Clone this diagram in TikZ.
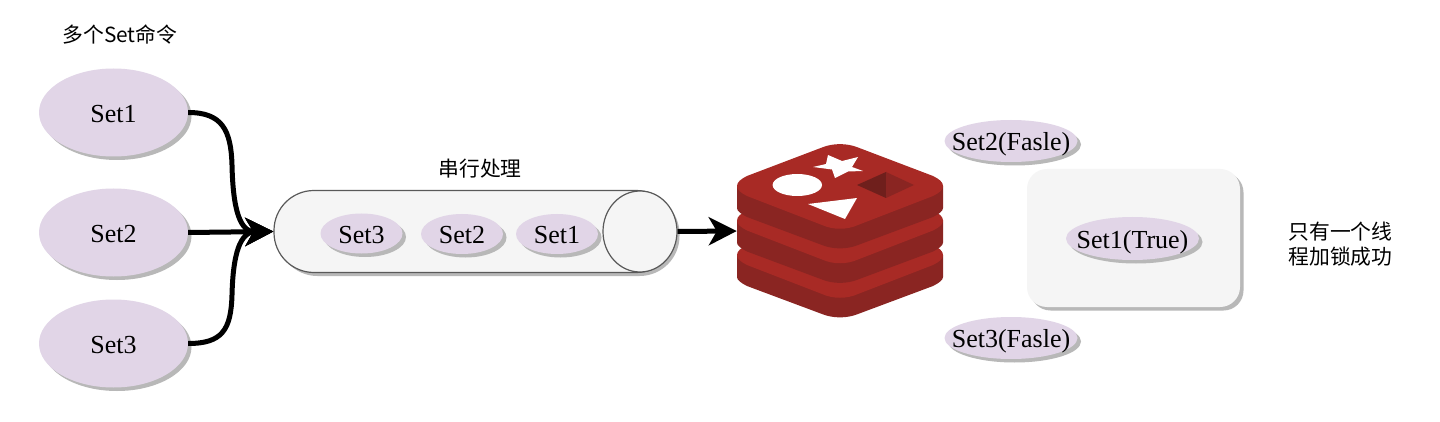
\documentclass[tikz,border=0pt]{standalone}
\usepackage{fontspec}
\setmainfont{Liberation Serif}
\newfontfamily\cjk{Noto Sans CJK SC}
\usetikzlibrary{shapes.geometric,shadows,arrows.meta}
\definecolor{lilac}{HTML}{E1D5E7}
\definecolor{shade}{HTML}{B8B8B8}
\definecolor{pale}{HTML}{F5F5F5}
\definecolor{redface}{HTML}{A82A25}
\definecolor{redside}{HTML}{8A2522}
\definecolor{reddark}{HTML}{6F1F1C}
\newcommand{\tightlabel}[2][-9.5pt]{\raisebox{#1}[0pt][0pt]{\makebox[0pt]{#2}}}
\tikzset{
  softshadow/.style={drop shadow={shadow xshift=3.5pt,shadow yshift=-3.5pt,opacity=1,fill=shade}},
  setblob/.style={ellipse,fill=lilac,softshadow,inner sep=0pt,font=\fontsize{26}{30}\selectfont},
  bigset/.style={setblob,minimum width=149pt,minimum height=88pt},
  midset/.style={setblob,minimum width=82pt,minimum height=40pt},
  wideset/.style={setblob,minimum width=133pt,minimum height=42pt},
  caption/.style={font=\cjk\fontsize{20.8}{25}\selectfont,align=center,inner sep=0pt},
  flow/.style={line width=5pt,black,-{Stealth[length=28pt,width=28pt,inset=8pt]}},
}
\newcommand{\redislayer}[1]{%
  \begin{scope}[shift={(0,#1)}]
    \fill[redside] (737,186) -- (737,208) .. controls (737,211) and (741,214) .. (747,217) -- (822,245) .. controls (833,249.5) and (847,249.5) .. (858,245) -- (933,217) .. controls (939,214) and (943,211) .. (943,208) -- (943,186) -- cycle;
    \fill[redface] (737,186) .. controls (737,182) and (741,179) .. (747,176) -- (822,147.5) .. controls (833,143) and (847,143) .. (858,147.5) -- (933,176) .. controls (939,179) and (943,182) .. (943,186) .. controls (943,190) and (939,193) .. (933,196) -- (858,225) .. controls (847,230) and (833,230) .. (822,225) -- (747,196) .. controls (741,193) and (737,190) .. (737,186) -- cycle;
  \end{scope}}
\begin{document}
\begin{tikzpicture}[x=1pt,y=-1pt]
\useasboundingbox (0,0) rectangle (1440,422);
\fill[white] (0,0) rectangle (1440,422);

\node[caption] (title) at (120,34.5) {多个Set命令};
\node[bigset] (s1) at (113.5,112.5) {\tightlabel[-10pt]{Set1}};
\node[bigset] (s2) at (113.5,232.5) {\tightlabel[-10pt]{Set2}};
\node[bigset] (s3) at (113.5,343.5) {\tightlabel[-10pt]{Set3}};

\node[caption] (serial) at (480,169) {串行处理};
\node[draw=black!65,line width=1.2pt,fill=pale,softshadow,rounded corners=40pt,minimum width=402pt,minimum height=82pt,inner sep=0pt] (pipe) at (475,231.5) {};
\node[ellipse,draw=black!65,line width=1.2pt,fill=pale,minimum width=74pt,minimum height=81pt,inner sep=0pt] (cap) at (640,231.5) {};
\node[midset] (q3) at (361.5,233.5) {\tightlabel{Set3}};
\node[midset] (q2) at (462,234) {\tightlabel{Set2}};
\node[midset] (q1) at (557,234) {\tightlabel{Set1}};

% Redis logo
\redislayer{69}
\redislayer{34.5}
\redislayer{0}
\fill[white] (797.3,185) ellipse [x radius=24.7,y radius=11];
\fill[white] (828,155) -- (842,161) -- (858,157) -- (852,167) -- (863,171) -- (848,171.5) -- (835,178) -- (832,169.5) -- (813,167) -- (826,164) -- cycle;
\fill[white] (808,204) -- (857,198) -- (845,219) -- cycle;
\fill[reddark] (857,185) -- (886,172) -- (886,198) -- cycle;
\fill[redside] (914,185) -- (886,172) -- (886,198) -- cycle;
\node[minimum width=206pt,minimum height=174pt,inner sep=0pt] (redis) at (840,231) {};

\node[wideset] (f2) at (1011,141) {\tightlabel{Set2(Fasle)}};
\node[fill=pale,softshadow,rounded corners=20pt,minimum width=213pt,minimum height=138pt,inner sep=0pt] (box) at (1133.5,238) {};
\node[wideset,minimum height=43pt] (t1) at (1132.5,238.5) {\tightlabel{Set1(True)}};
\node[wideset] (f3) at (1011,338) {\tightlabel{Set3(Fasle)}};
\node[caption] (note) at (1340.5,244.5) {只有一个线\\程加锁成功};

\draw[flow] (s1.east) .. controls (222,112.5) and (231,130) .. (232,165) .. controls (233,210) and (240,232) .. (pipe.west);
\draw[flow] (s3.east) .. controls (222,343.5) and (231,330) .. (232,295) .. controls (233,254) and (240,232) .. (pipe.west);
\draw[flow] (s2.east) -- (pipe.west);
\draw[flow] (cap.east) -- (redis.west);
\end{tikzpicture}
\end{document}
